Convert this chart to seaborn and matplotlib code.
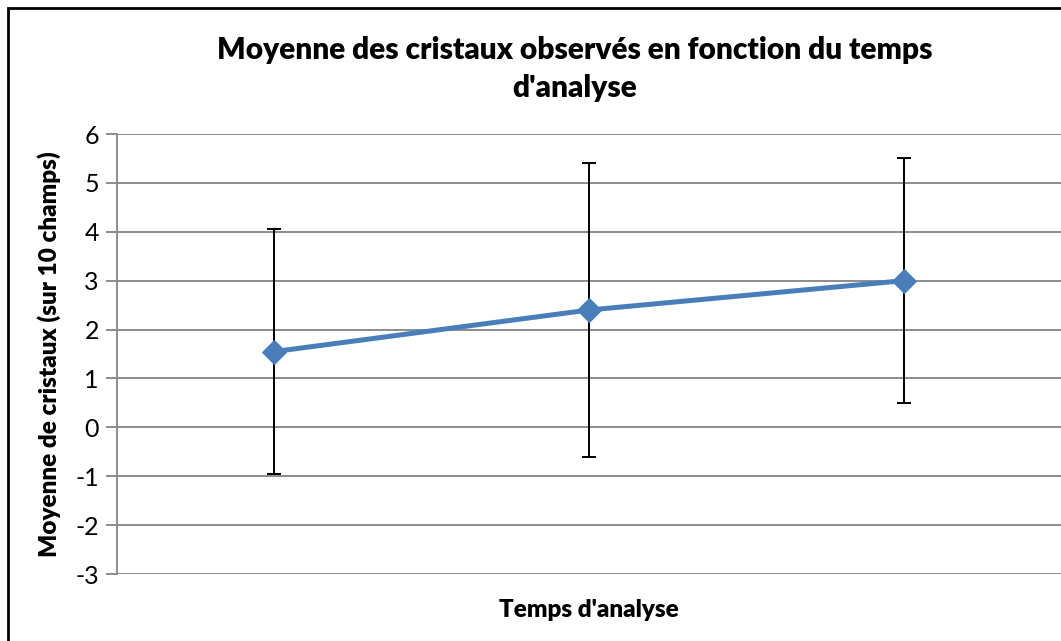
import numpy as np
import pandas as pd
import matplotlib
matplotlib.use("Agg")
import matplotlib.pyplot as plt
import seaborn as sns

# data
temps = ["T1", "T2", "T3"]          # category labels (not shown on the axis)
moyennes = [1.55, 2.40, 3.00]
erreurs = [2.50, 3.00, 2.50]

sns.set_theme(style="white")
plt.rcParams['font.family'] = ['Lato', 'DejaVu Sans']
plt.rcParams['axes.unicode_minus'] = False
plt.rcParams['text.color'] = 'black'
plt.rcParams['axes.labelcolor'] = 'black'

df = pd.DataFrame({"pos": np.arange(len(temps)), "temps": temps, "moyenne": moyennes})

fig = plt.figure(figsize=(10.61, 6.41), dpi=100)
ax = fig.add_axes([117/1061, 1 - 574/641, 1 - 117/1061, (574 - 134)/641])

ax.errorbar(df["pos"], df["moyenne"], yerr=erreurs, fmt="none", ecolor="black",
            elinewidth=1.4, capsize=5, capthick=1.4, zorder=3)
sns.lineplot(data=df, x="pos", y="moyenne", ax=ax, color="#4a7ebb", linewidth=3.6,
             marker="D", markersize=12.5, markeredgecolor="#4a7ebb", zorder=4)

ax.set_xlim(-0.5, 2.5)
ax.set_ylim(-3, 6)
ax.set_yticks(range(-3, 7))
ax.set_xticks([])
ax.yaxis.grid(True, color="#8c8c8c", linewidth=1.4)
ax.tick_params(axis="y", which="both", left=True, length=8, width=1.4, color="#8c8c8c",
               labelsize=18, pad=5, labelcolor="black")
for side in ["top", "right", "bottom"]:
    ax.spines[side].set_visible(False)
ax.spines["left"].set_color("#8c8c8c")
ax.spines["left"].set_linewidth(1.4)

ax.set_xlabel("Temps d'analyse", fontsize=17.5, fontweight="heavy", labelpad=18)
ax.set_ylabel("Moyenne de cristaux (sur 10 champs)", fontsize=17.5, fontweight="heavy", labelpad=10)

fig.text(575/1061, 1 - 69/641, "Moyenne des cristaux observés en fonction du temps\nd'analyse",
         ha="center", va="center", fontsize=21.5, fontweight="heavy", linespacing=1.42)

# outer chart border (cut off at right and bottom like the reference)
border = plt.Rectangle((8/1061, -0.1), 1.2, 1 - 8/641 + 0.1, transform=fig.transFigure,
                       fill=False, edgecolor="black", linewidth=2, zorder=0)
fig.patches.append(border)

fig.savefig("out.png", dpi=100)
